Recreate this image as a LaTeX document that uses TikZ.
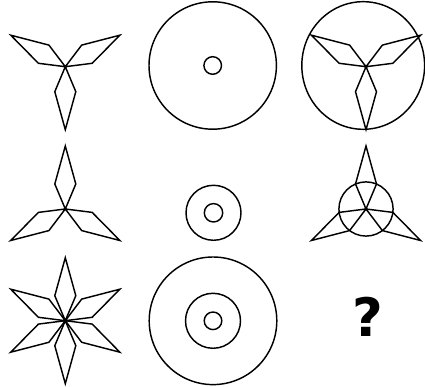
\documentclass[tikz,border=0pt]{standalone}
\usepackage{fontspec}
\newfontfamily\qfont{DejaVu Sans}
\tikzset{
  shapeline/.style={draw=black, line width=1.45pt},
  pics/petal/.style={code={
    \draw[shapeline, rotate=#1] (0,0) -- (22.8:27.1) -- (0:63) -- (-22.8:27.1) -- cycle;
  }}
}
\begin{document}
\begin{tikzpicture}[x=1pt,y=1pt]
\useasboundingbox (0,0) rectangle (425,387);
% Row 1
\coordinate (t1) at (65.3,320.3);
\pic at (t1) {petal=-90};
\pic at (t1) {petal=150};
\pic at (t1) {petal=30};
\coordinate (c1) at (212.7,321.5);
\draw[shapeline] (c1) circle[radius=63.7];
\draw[shapeline] (c1) circle[radius=8.8];
\coordinate (t3) at (366,320.3);
\coordinate (e3) at (363.2,321.5);
\draw[shapeline] (e3) ellipse[x radius=61.4, y radius=63.8];
\pic at (t3) {petal=-90};
\pic at (t3) {petal=150};
\pic at (t3) {petal=30};
% Row 2
\coordinate (t4) at (65.3,178);
\pic at (t4) {petal=90};
\pic at (t4) {petal=210};
\pic at (t4) {petal=330};
\coordinate (c5) at (213.5,174.2);
\draw[shapeline] (c5) circle[radius=27.5];
\draw[shapeline] (c5) circle[radius=9.2];
\coordinate (t6) at (366,178);
\pic at (t6) {petal=90};
\pic at (t6) {petal=210};
\pic at (t6) {petal=330};
\draw[shapeline] (t6) circle[radius=27.1];
% Row 3
\coordinate (t7) at (65.3,66.3);
\foreach \a in {90,150,210,270,330,30} { \pic at (t7) {petal=\a}; }
\coordinate (c8) at (213,66.2);
\draw[shapeline] (c8) circle[radius=63.8];
\draw[shapeline] (c8) circle[radius=27.5];
\draw[shapeline] (c8) circle[radius=8.8];
\node[inner sep=0pt, font=\qfont\bfseries\fontsize{53}{53}\selectfont] (q) at (367.5,70) {?};
\end{tikzpicture}
\end{document}
